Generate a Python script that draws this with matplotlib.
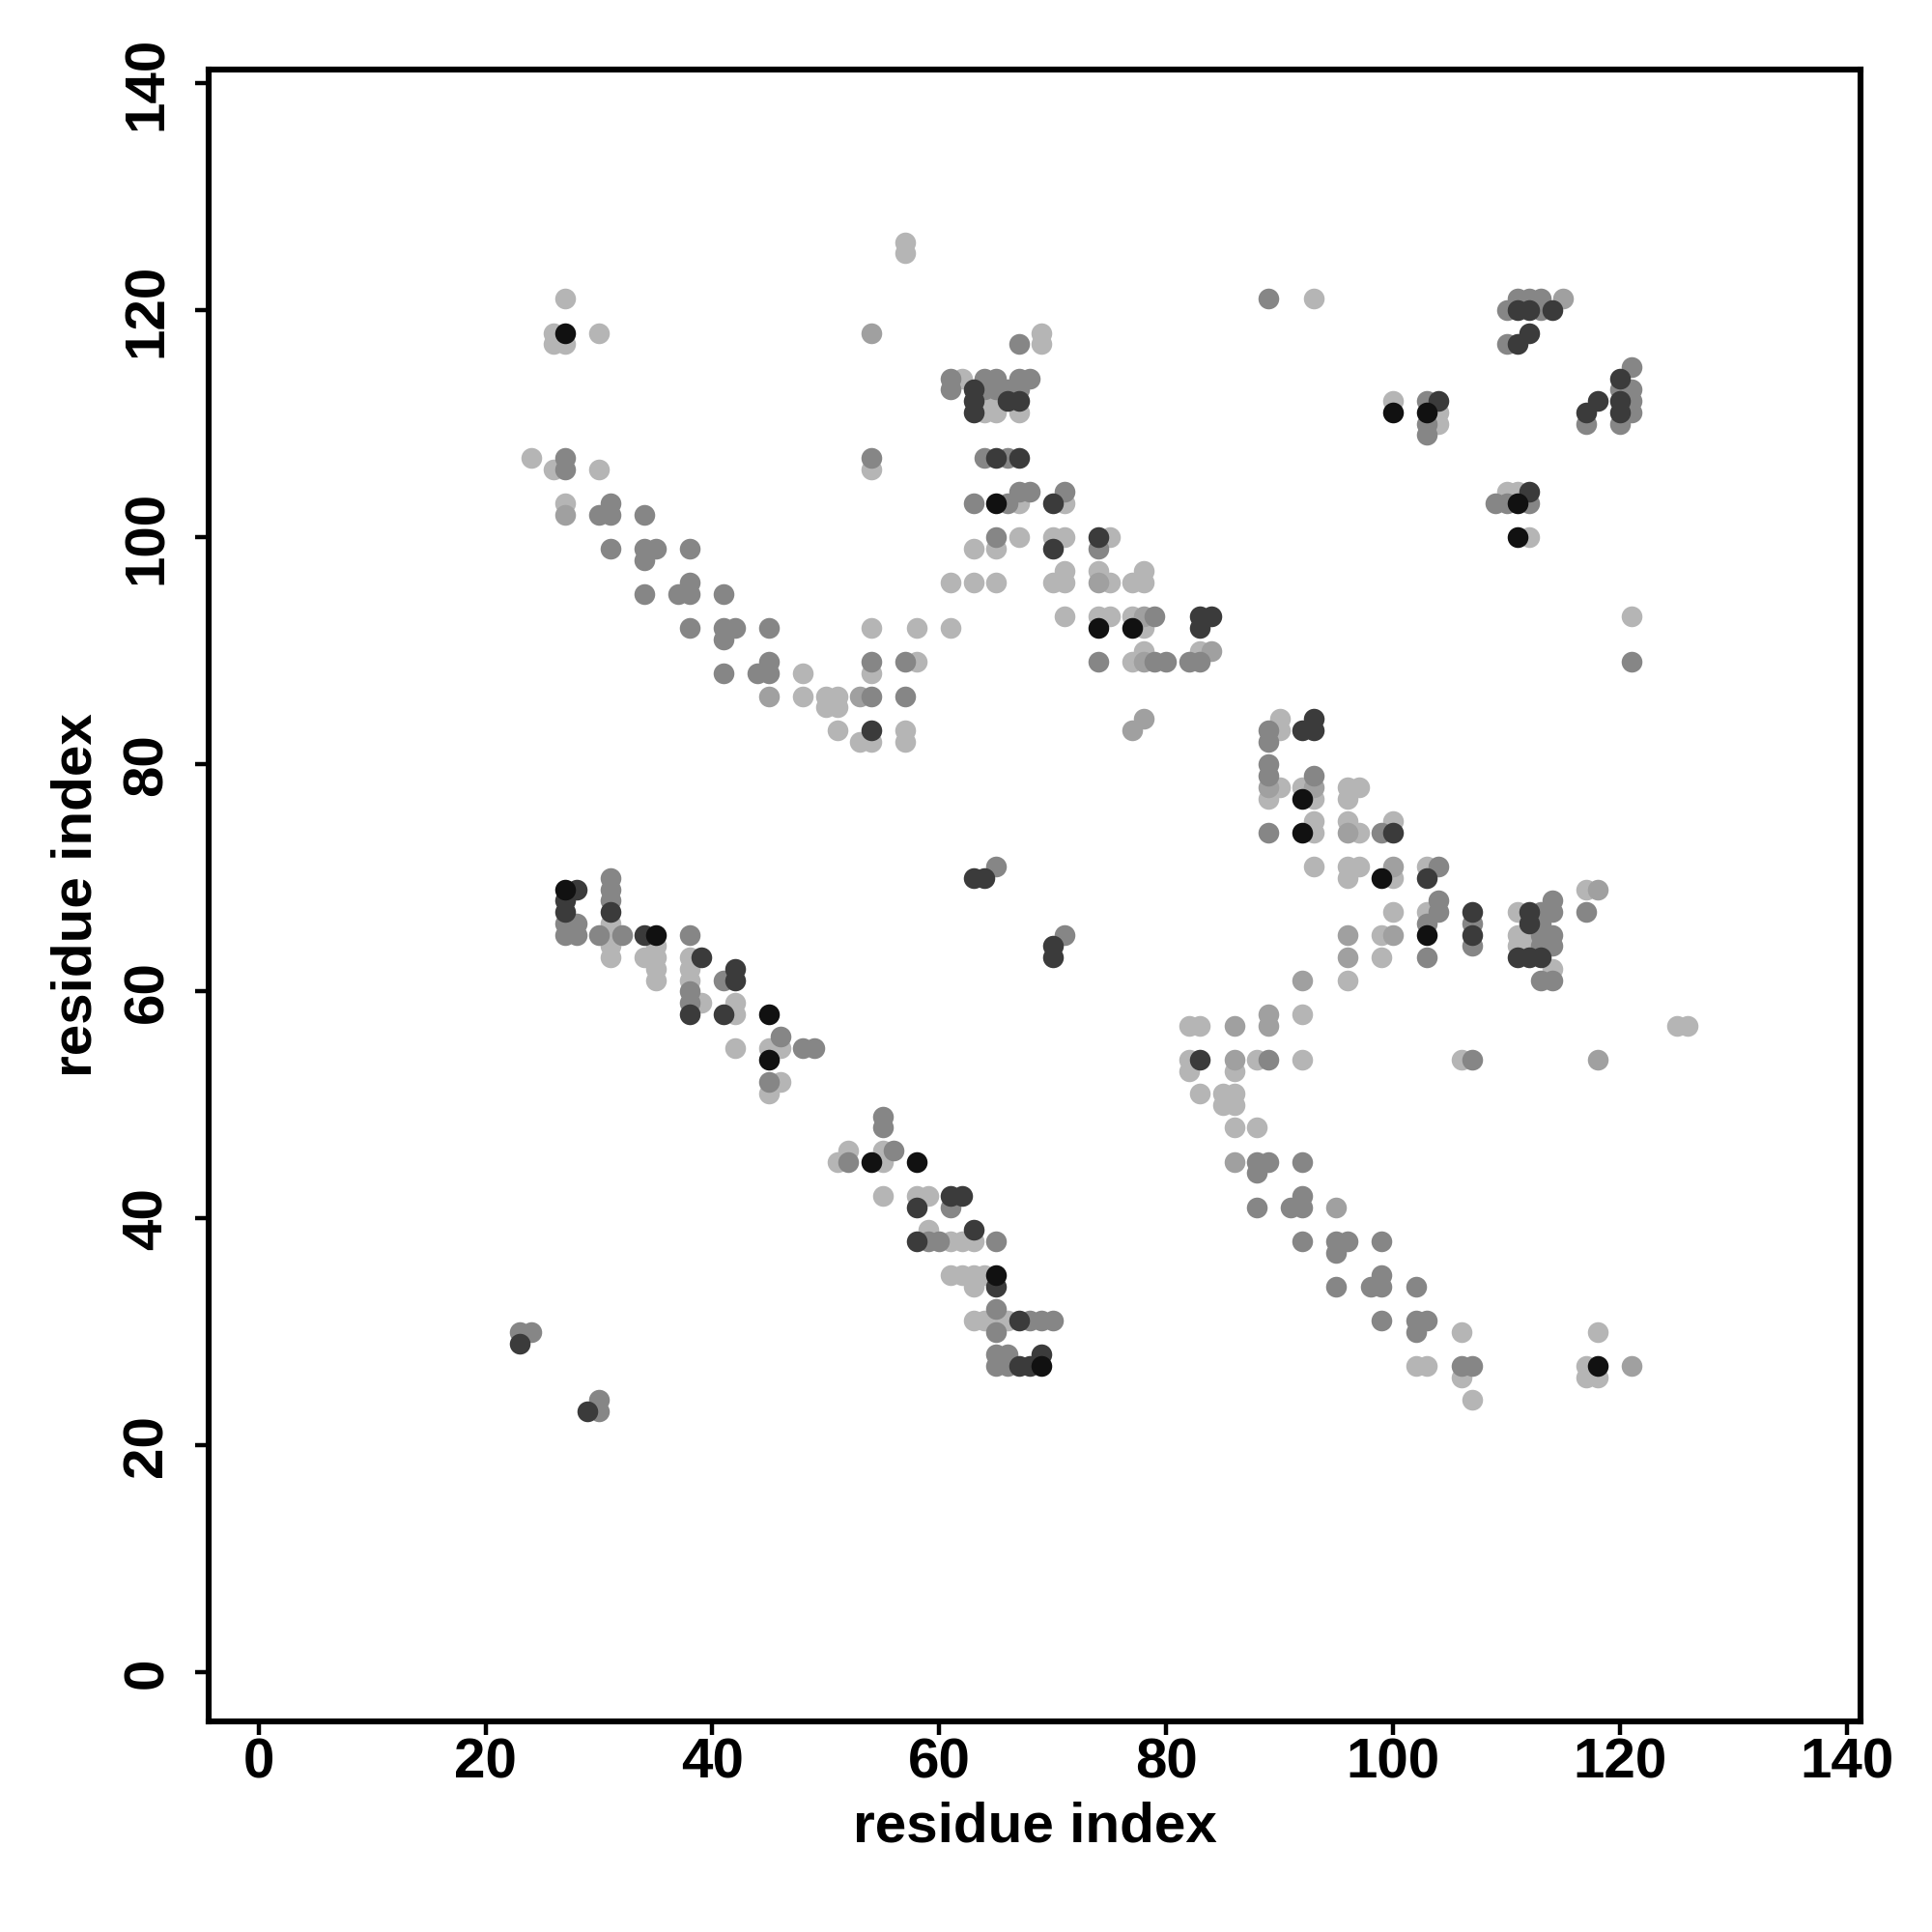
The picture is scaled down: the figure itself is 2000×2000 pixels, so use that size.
import matplotlib
matplotlib.use("Agg")
import matplotlib.pyplot as plt

# contact map points, grouped by grey shade (residue i, residue j)
black_pts = [(27, 118), (65, 103), (100, 111), (103, 111), (111, 103), (74, 92), (77, 92),
             (92, 77), (92, 74), (111, 100), (99, 70), (103, 65), (27, 69), (35, 65), (45, 58),
             (45, 54), (54, 45), (58, 45), (65, 35), (69, 27), (118, 27)]

dark_pts = [(63, 113), (63, 112), (63, 111), (66, 112), (67, 112), (65, 107), (67, 107), (70, 103),
            (111, 120), (112, 120), (114, 120), (112, 118), (111, 117), (120, 114), (118, 112),
            (120, 112), (117, 111), (120, 111), (104, 112), (112, 104), (54, 83), (74, 100),
            (70, 99), (83, 93), (84, 93), (83, 92), (93, 84), (92, 83), (93, 83), (100, 74),
            (103, 70), (107, 67), (112, 67), (112, 66), (107, 65), (111, 63), (112, 63), (113, 63),
            (63, 70), (64, 70), (70, 64), (70, 63), (83, 54), (28, 69), (27, 68), (27, 67), (31, 67),
            (34, 65), (39, 63), (42, 62), (42, 61), (38, 58), (41, 58), (23, 29), (29, 23), (61, 42),
            (62, 42), (58, 41), (63, 39), (58, 38), (65, 34), (67, 31), (69, 28), (67, 27), (68, 27)]

mid_pts = [(27, 107), (27, 106), (54, 107), (31, 103), (30, 102), (31, 102), (34, 102), (89, 121),
           (67, 117), (61, 114), (61, 113), (64, 114), (65, 114), (64, 113), (65, 113), (66, 113),
           (67, 114), (67, 113), (68, 114), (64, 107), (66, 107), (63, 103), (66, 103), (67, 104),
           (68, 104), (71, 104), (111, 121), (112, 121), (113, 121), (110, 120), (113, 120),
           (110, 117), (121, 115), (120, 113), (121, 113), (121, 112), (121, 111), (117, 110),
           (120, 110), (103, 112), (103, 110), (103, 109), (109, 103), (110, 103), (112, 103),
           (31, 99), (34, 99), (35, 99), (38, 99), (34, 98), (38, 96), (34, 95), (37, 95), (38, 95),
           (41, 95), (38, 92), (41, 92), (42, 92), (45, 92), (41, 91), (45, 89), (54, 89), (57, 89),
           (41, 88), (44, 88), (45, 88), (54, 86), (57, 86), (65, 100), (74, 99), (79, 93), (74, 89),
           (79, 89), (80, 89), (82, 89), (83, 89), (89, 83), (89, 82), (89, 80), (89, 79), (93, 79),
           (89, 74), (121, 89), (99, 74), (104, 71), (104, 68), (114, 68), (104, 67), (113, 67),
           (114, 67), (117, 67), (103, 66), (107, 66), (113, 66), (113, 65), (114, 65), (107, 64),
           (113, 64), (114, 64), (103, 63), (113, 61), (114, 61), (107, 54), (65, 71), (71, 65),
           (89, 54), (31, 70), (31, 69), (31, 68), (27, 66), (28, 66), (27, 65), (28, 65), (30, 65),
           (32, 65), (38, 65), (41, 61), (38, 60), (38, 59), (46, 56), (48, 55), (49, 55), (45, 52),
           (55, 49), (55, 48), (56, 46), (52, 45), (23, 30), (24, 30), (30, 24), (30, 23), (88, 45),
           (89, 45), (92, 45), (88, 44), (92, 42), (61, 41), (88, 41), (91, 41), (92, 41), (59, 38),
           (60, 38), (65, 38), (92, 38), (65, 32), (68, 31), (69, 31), (70, 31), (65, 30), (65, 28),
           (66, 28), (65, 27), (66, 27), (95, 38), (96, 38), (99, 38), (95, 37), (99, 35), (95, 34),
           (98, 34), (99, 34), (102, 34), (99, 31), (102, 31), (103, 31), (102, 30), (106, 27),
           (107, 27)]

midlight_pts = [(54, 118), (27, 102), (115, 121), (45, 86), (53, 86), (74, 96), (78, 93), (84, 90),
                (78, 89), (78, 84), (77, 83), (89, 78), (93, 78), (96, 74), (100, 71), (118, 69),
                (96, 65), (100, 65), (96, 63), (118, 54), (92, 61), (89, 58), (86, 57), (89, 57),
                (86, 54), (86, 45), (95, 41), (121, 27)]

light_pts = [(27, 121), (26, 118), (26, 117), (27, 117), (30, 118), (57, 126), (57, 125), (24, 107),
             (26, 106), (30, 106), (54, 106), (27, 103), (93, 121), (69, 118), (69, 117), (62, 114),
             (64, 112), (65, 112), (64, 111), (65, 111), (67, 111), (67, 103), (71, 103), (100, 112),
             (104, 111), (104, 110), (110, 104), (111, 104), (54, 92), (58, 92), (61, 92), (58, 89),
             (48, 88), (54, 88), (48, 86), (50, 86), (51, 86), (50, 85), (51, 85), (51, 83), (57, 83),
             (53, 82), (54, 82), (57, 82), (67, 100), (70, 100), (71, 100), (75, 100), (63, 99),
             (65, 99), (71, 97), (74, 97), (78, 97), (61, 96), (63, 96), (65, 96), (70, 96), (71, 96),
             (75, 96), (77, 96), (78, 96), (71, 93), (74, 93), (75, 93), (77, 93), (78, 92), (78, 90),
             (83, 90), (77, 89), (90, 84), (90, 83), (90, 78), (92, 78), (89, 77), (93, 77), (93, 75),
             (93, 74), (112, 100), (121, 93), (96, 78), (97, 78), (96, 77), (96, 75), (100, 75),
             (97, 74), (93, 71), (96, 71), (97, 71), (103, 71), (96, 70), (100, 70), (117, 69),
             (100, 67), (103, 67), (111, 67), (99, 65), (111, 65), (112, 65), (111, 64), (112, 64),
             (99, 63), (114, 62), (96, 61), (125, 57), (126, 57), (106, 54), (92, 58), (82, 57),
             (83, 57), (82, 54), (88, 54), (92, 54), (82, 53), (86, 53), (83, 51), (85, 51), (86, 51),
             (85, 50), (86, 50), (86, 48), (88, 48), (31, 66), (31, 65), (31, 64), (35, 64), (31, 63),
             (34, 63), (35, 63), (38, 63), (35, 62), (38, 62), (35, 61), (38, 61), (39, 59), (42, 59),
             (42, 58), (42, 55), (45, 55), (46, 55), (46, 52), (45, 51), (52, 46), (55, 46), (51, 45),
             (55, 45), (55, 42), (58, 42), (59, 42), (59, 39), (61, 38), (62, 38), (63, 38), (61, 35),
             (62, 35), (63, 35), (64, 35), (63, 34), (63, 31), (64, 31), (65, 31), (66, 31),
             (106, 30), (118, 30), (102, 27), (103, 27), (117, 27), (106, 26), (117, 26), (118, 26),
             (107, 24)]

shades = [(light_pts, "#b5b5b5"), (midlight_pts, "#a0a0a0"), (mid_pts, "#868686"),
          (dark_pts, "#3b3b3b"), (black_pts, "#111111")]

ticks = [0, 20, 40, 60, 80, 100, 120, 140]

plt.rcParams['font.family'] = ['Liberation Sans', 'DejaVu Sans']
plt.rcParams['font.weight'] = 'bold'

fig = plt.figure(figsize=(10, 10), dpi=200)
ax = fig.add_axes([0.108, 0.109, 0.855, 0.855])

for pts, col in shades:
    xs = [p[0] for p in pts]
    ys = [p[1] for p in pts]
    ax.scatter(xs, ys, s=60, c=col, linewidths=0, zorder=2)

ax.set_xlim(-4.4, 141.2)
ax.set_ylim(-4.3, 141.2)
ax.set_xticks(ticks)
ax.set_yticks(ticks)
ax.tick_params(axis='both', direction='out', length=5, width=1.6, labelsize=21)
ax.tick_params(axis='x', pad=1)
ax.tick_params(axis='y', pad=8)
for lab in ax.get_yticklabels():
    lab.set_rotation(90)
    lab.set_va('center')
for sp in ax.spines.values():
    sp.set_linewidth(2.2)

ax.set_xlabel('residue index', fontsize=21, fontweight='bold')
ax.set_ylabel('residue index', fontsize=21, fontweight='bold')
ax.xaxis.set_label_coords(0.5, -0.064)
ax.xaxis.label.set_va('center')
ax.yaxis.set_label_coords(-0.080, 0.5)
ax.yaxis.label.set_va('center')

fig.savefig('out.png', dpi=200)
